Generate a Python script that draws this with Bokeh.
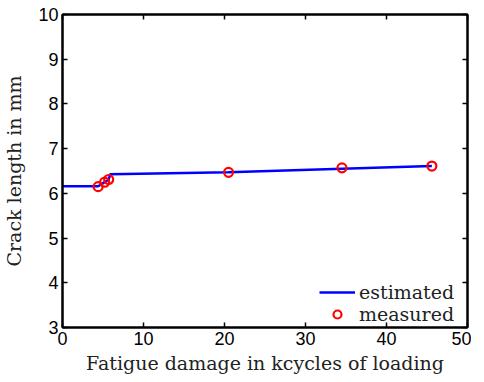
from bokeh.plotting import figure
from bokeh.models import LinearAxis, Range1d, FixedTicker, Legend, LegendItem, CustomJSTickFormatter
from bokeh.embed import file_html
from bokeh.resources import INLINE

# measured data
meas_x = [4.4, 5.2, 5.7, 20.5, 34.5, 45.6]
meas_y = [6.15, 6.25, 6.31, 6.47, 6.57, 6.61]
# estimated curve
est_x = [0.0, 4.4, 5.2, 5.7, 5.9, 20.5, 34.5, 45.6]
est_y = [6.16, 6.16, 6.25, 6.31, 6.43, 6.47, 6.55, 6.61]

x_ticks = [0, 10, 20, 30, 40, 50]
y_ticks = [3, 4, 5, 6, 7, 8, 9, 10]

p = figure(frame_width=405, frame_height=313, output_backend="svg", toolbar_location=None,
           x_range=Range1d(0, 50), y_range=Range1d(3, 10),
           min_border_left=60, min_border_right=4, min_border_top=14, min_border_bottom=40)
p.background_fill_color = "white"
p.border_fill_color = "white"
p.grid.visible = False
p.outline_line_color = "black"
p.outline_line_width = 2

tick_font = "Liberation Sans"
lab_font = "DejaVu Serif"

for ax in [p.xaxis[0], p.yaxis[0]]:
    ax.axis_line_width = 2
    ax.major_tick_in = 5
    ax.major_tick_out = 0
    ax.minor_tick_in = 0
    ax.minor_tick_out = 0
    ax.major_tick_line_width = 1.5
    ax.major_label_text_font = tick_font
    ax.major_label_text_font_size = "18px"
    ax.major_label_text_color = "black"
    ax.axis_label_text_font = lab_font
    ax.axis_label_text_font_style = "normal"
    ax.axis_label_text_font_size = "19px"
    ax.axis_label_text_color = "#222222"

p.xaxis[0].ticker = FixedTicker(ticks=x_ticks)
p.yaxis[0].ticker = FixedTicker(ticks=y_ticks)
p.xaxis[0].axis_label = "Fatigue damage in kcycles of loading"
p.yaxis[0].axis_label = "Crack length in mm"
p.xaxis[0].major_label_standoff = 4
p.yaxis[0].major_label_standoff = 4
p.xaxis[0].axis_label_standoff = 4
p.yaxis[0].axis_label_standoff = 10

# mirror axes for ticks on top and right
for loc, tk in [("above", x_ticks), ("right", y_ticks)]:
    a = LinearAxis(ticker=FixedTicker(ticks=tk),
                   formatter=CustomJSTickFormatter(code="return ''"),
                   major_tick_in=5, major_tick_out=0, minor_tick_in=0, minor_tick_out=0,
                   axis_line_width=2, major_tick_line_width=1.5)
    a.major_label_standoff = 0
    p.add_layout(a, loc)

ln = p.line(est_x, est_y, line_color="blue", line_width=2.5)
cr = p.scatter(meas_x, meas_y, marker="circle", size=9, fill_color=None,
               line_color="red", line_width=2.2)

legend = Legend(items=[LegendItem(label="estimated", renderers=[ln]),
                       LegendItem(label="measured", renderers=[cr])],
                location=(257, 2))
legend.label_text_font = lab_font
legend.label_text_font_size = "19px"
legend.label_text_color = "#222222"
legend.border_line_color = None
legend.background_fill_alpha = 0
legend.glyph_width = 36
legend.label_standoff = 4
legend.spacing = 0
legend.padding = 2
legend.margin = 0
legend.label_height = 19
p.add_layout(legend)

open("out.html", "w").write(file_html(p, INLINE))
